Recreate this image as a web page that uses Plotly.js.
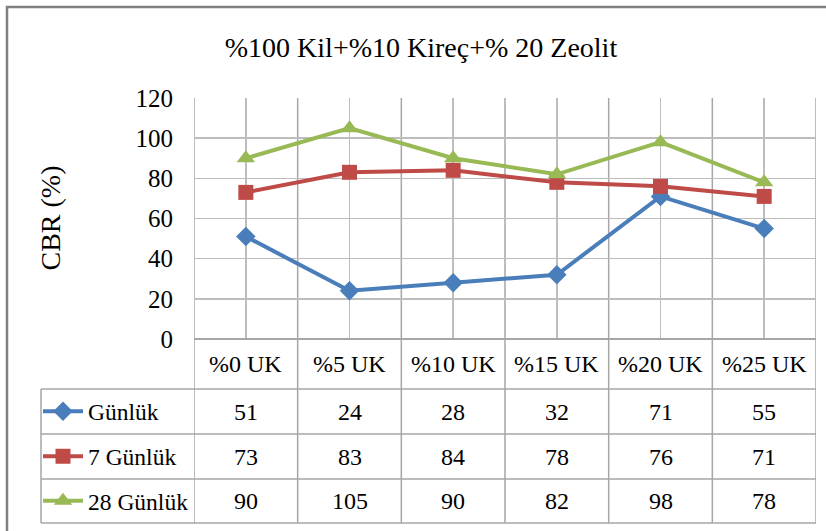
<!DOCTYPE html>
<html>
<head>
<meta charset="utf-8">
<script src="https://cdn.plot.ly/plotly-3.0.1.min.js"></script>
<style>
  html, body { margin: 0; padding: 0; background: #fff; }
  #chart { width: 826px; height: 531px; }
</style>
</head>
<body>
<div id="chart"></div>
<script>
// CBR results for clay + lime + zeolite mixtures
const categories = ['%0 UK', '%5 UK', '%10 UK', '%15 UK', '%20 UK', '%25 UK'];
const seriesNames = ['Günlük', '7 Günlük', '28 Günlük'];
const cbrDay1  = [51, 24, 28, 32, 71, 55];
const cbrDay7  = [73, 83, 84, 78, 76, 71];
const cbrDay28 = [90, 105, 90, 82, 98, 78];
const yTicks = [0, 20, 40, 60, 80, 100, 120];

const seriesValues = [cbrDay1, cbrDay7, cbrDay28];
const colors = ['#4A7EBB', '#BE4B48', '#98B954'];
const symbols = ['diamond', 'square', 'triangle-up'];
const markerSizes = [15, 15, 16];

// plot-area geometry in pixels
const W0 = 826, H0 = 531;
const L = 194, R = 816, T = 98, B = 339;
const PW = R - L, PH = B - T;
const px = p => (p - L) / PW;          // pixel x -> paper x
const py = p => (B - p) / PH;          // pixel y -> paper y

// table rows (pixel y of row edges)
const headerTop = B, rowEdges = [389, 434, 479, 523];
const tableLeft = 41;

const FONT = 'Liberation Serif';
const gridColor = '#BDBDBD';
const tableColor = '#A6A6A6';

const legendIds = ['legend', 'legend2', 'legend3'];

const traces = seriesValues.map((vals, i) => ({
  type: 'scatter',
  mode: 'lines+markers',
  x: categories,
  y: vals,
  name: seriesNames[i],
  legend: legendIds[i],
  line: { color: colors[i], width: 4 },
  marker: { color: colors[i], symbol: symbols[i], size: markerSizes[i] },
  cliponaxis: false
}));

const shapes = [];
// outer chart frame
shapes.push({
  type: 'rect', xref: 'paper', yref: 'paper',
  x0: px(7), x1: px(900), y0: py(7), y1: py(700),
  line: { color: '#808080', width: 2.5 }, fillcolor: 'rgba(0,0,0,0)', layer: 'below'
});
// category boundaries, running through plot and data table
for (let i = 0; i <= categories.length; i++) {
  shapes.push({
    type: 'line', xref: 'x', yref: 'paper',
    x0: i - 0.5, x1: i - 0.5, y0: py(rowEdges[3]), y1: 1,
    line: { color: tableColor, width: 1.5 }, layer: 'below'
  });
}
// table horizontal rules
rowEdges.forEach(yy => {
  shapes.push({
    type: 'line', xref: 'paper', yref: 'paper',
    x0: px(tableLeft), x1: 1, y0: py(yy), y1: py(yy),
    line: { color: tableColor, width: 1.5 }, layer: 'below'
  });
});
// table left edge
shapes.push({
  type: 'line', xref: 'paper', yref: 'paper',
  x0: px(tableLeft), x1: px(tableLeft), y0: py(rowEdges[0]), y1: py(rowEdges[3]),
  line: { color: tableColor, width: 1.5 }, layer: 'below'
});

const annotations = [];
// header row: category names
categories.forEach(c => {
  annotations.push({
    xref: 'x', yref: 'paper', x: c, y: py((headerTop + rowEdges[0]) / 2),
    text: c, showarrow: false, xanchor: 'center', yanchor: 'middle',
    font: { family: FONT, size: 24, color: '#000' }
  });
});
// data rows
seriesValues.forEach((vals, r) => {
  const yc = py((rowEdges[r] + rowEdges[r + 1]) / 2);
  vals.forEach((v, k) => {
    annotations.push({
      xref: 'x', yref: 'paper', x: categories[k], y: yc,
      text: String(v), showarrow: false, xanchor: 'center', yanchor: 'middle',
      font: { family: FONT, size: 24, color: '#000' }
    });
  });
});
// y-axis title
annotations.push({
  xref: 'paper', yref: 'paper', x: px(50), y: 0.5,
  text: 'CBR (%)', textangle: -90, showarrow: false,
  xanchor: 'center', yanchor: 'middle',
  font: { family: FONT, size: 28, color: '#000' }
});

const layout = {
  width: W0, height: H0,
  margin: { l: L, r: W0 - R, t: T, b: H0 - B, pad: 0 },
  paper_bgcolor: '#fff', plot_bgcolor: '#fff',
  font: { family: FONT, size: 24, color: '#000' },
  title: {
    text: '%100 Kil+%10 Kireç+% 20 Zeolit',
    xref: 'container', yref: 'container',
    x: 421 / W0, y: 1 - 47 / H0, xanchor: 'center', yanchor: 'middle',
    font: { family: FONT, size: 28, color: '#000' }
  },
  xaxis: {
    type: 'category', categoryorder: 'array', categoryarray: categories,
    range: [-0.5, categories.length - 0.5],
    showgrid: true, gridcolor: gridColor, gridwidth: 1.5,
    showticklabels: false, ticks: '', showline: false, zeroline: false,
    fixedrange: true
  },
  yaxis: {
    range: [0, 120], tickvals: yTicks, ticktext: yTicks.map(String),
    showgrid: true, gridcolor: gridColor, gridwidth: 1.5,
    zeroline: true, zerolinecolor: tableColor, zerolinewidth: 1.5,
    showline: false, ticks: '', ticklabelstandoff: 20,
    tickfont: { family: FONT, size: 25, color: '#000' },
    fixedrange: true
  },
  shapes: shapes,
  annotations: annotations,
  showlegend: true
};

// one legend per table row, each carrying its series' line and marker
legendIds.forEach((id, i) => {
  layout[id] = {
    xref: 'container', yref: 'container',
    x: 38 / W0, y: 1 - ((rowEdges[i] + rowEdges[i + 1]) / 2) / H0,
    xanchor: 'left', yanchor: 'middle',
    bgcolor: 'rgba(0,0,0,0)', borderwidth: 0,
    itemwidth: 40, itemclick: false, itemdoubleclick: false,
    font: { family: FONT, size: 23.5, color: '#000' }
  };
});

Plotly.newPlot('chart', traces, layout, { displayModeBar: false, staticPlot: true });
</script>
</body>
</html>
